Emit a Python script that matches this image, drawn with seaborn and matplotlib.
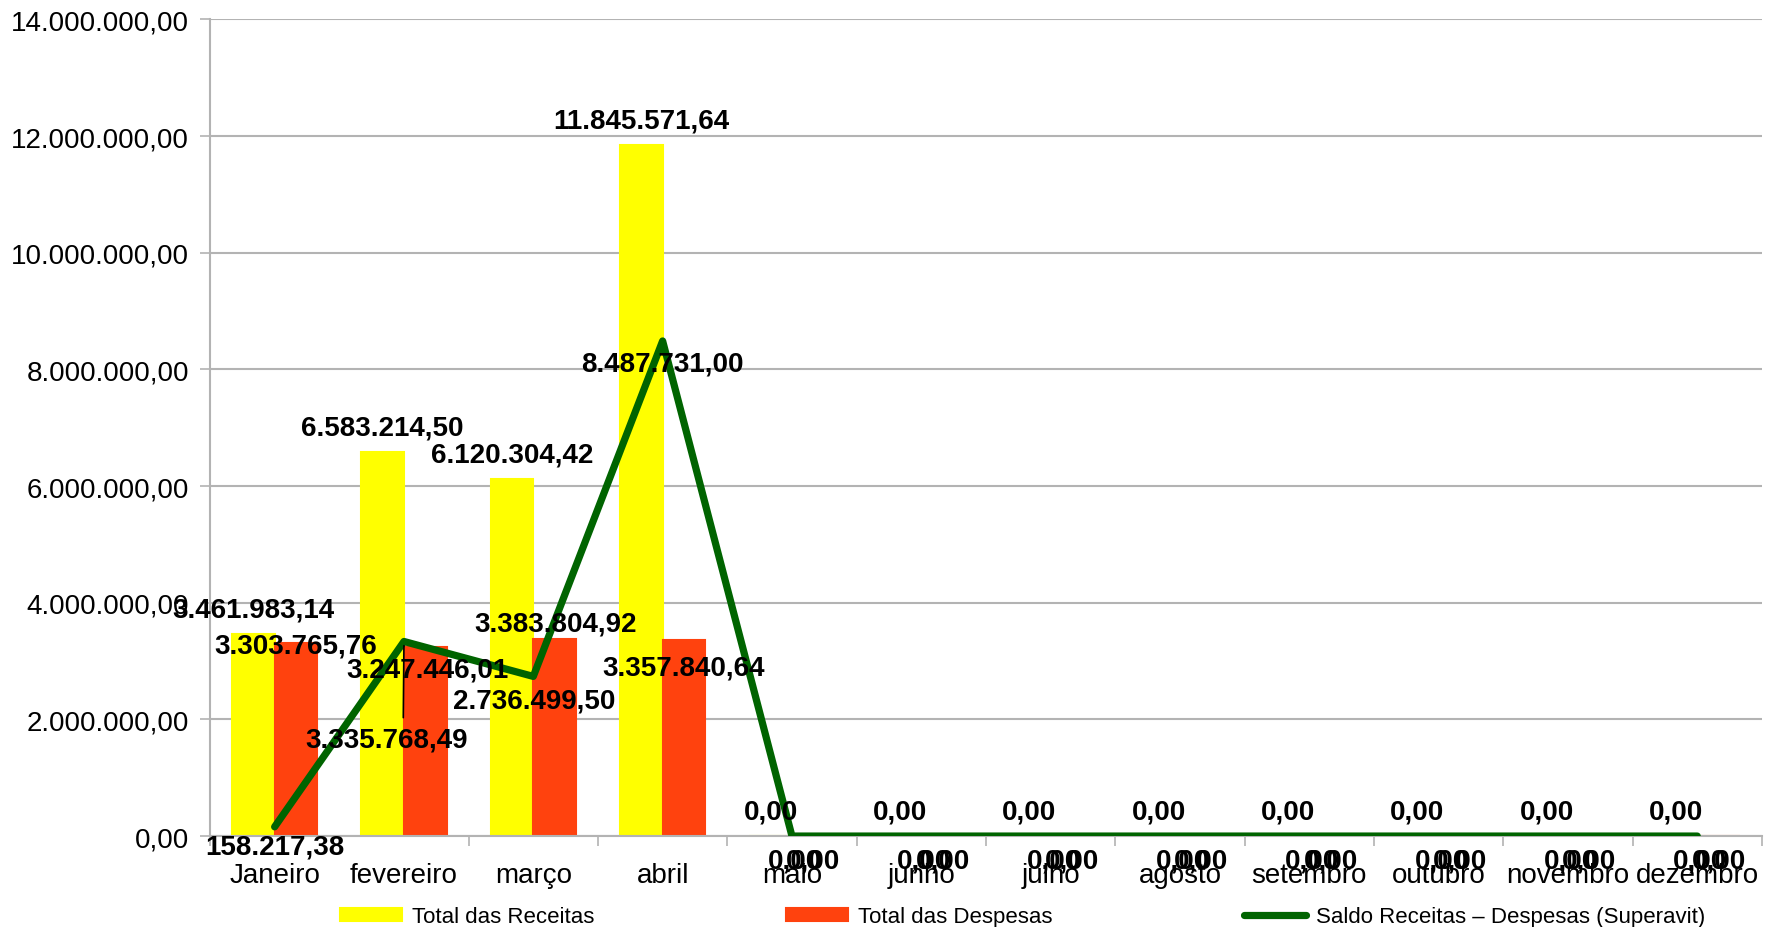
import numpy as np
import pandas as pd
import matplotlib
matplotlib.use("Agg")
import matplotlib.pyplot as plt
import seaborn as sns
from matplotlib.ticker import FuncFormatter, FixedLocator

meses = ["Janeiro", "fevereiro", "março", "abril", "maio", "junho",
         "julho", "agosto", "setembro", "outubro", "novembro", "dezembro"]
receitas = [3461983.14, 6583214.50, 6120304.42, 11845571.64, 0, 0, 0, 0, 0, 0, 0, 0]
despesas = [3303765.76, 3247446.01, 3383804.92, 3357840.64, 0, 0, 0, 0, 0, 0, 0, 0]
saldo = [158217.38, 3335768.49, 2736499.50, 8487731.00, 0, 0, 0, 0, 0, 0, 0, 0]

# label offsets in pixels (dx, dy)
off_desp = [(0, -2), (2, -23), (1, 15), (0, -27)] + [(0, -24)] * 8
off_saldo = [(0, -20), (-17, -98), (1, -24), (0, -23)] + [(3, -24)] * 8

COR_REC = "#ffff00"
COR_DESP = "#ff420e"
COR_SALDO = "#006400"
GRID = "#b3b3b3"


def br(v):
    s = f"{v:,.2f}"
    return s.replace(",", "X").replace(".", ",").replace("X", ".")


def plot_chart():
    sns.set_theme(style="white")
    plt.rcParams["font.family"] = ["Liberation Sans", "DejaVu Sans"]
    plt.rcParams["text.color"] = "black"
    plt.rcParams["xtick.labelcolor"] = "black"
    plt.rcParams["ytick.labelcolor"] = "black"

    df = pd.DataFrame({
        "mes": meses * 2,
        "valor": receitas + despesas,
        "serie": ["Total das Receitas"] * 12 + ["Total das Despesas"] * 12,
    })

    fig = plt.figure(figsize=(17.69, 9.28), dpi=100)
    ax = fig.add_axes([0.1187, 0.098, 0.8773, 0.880])

    sns.barplot(data=df, x="mes", y="valor", hue="serie", order=meses,
                palette={"Total das Receitas": COR_REC, "Total das Despesas": COR_DESP},
                width=0.66, ax=ax, saturation=1, errorbar=None)
    for p in ax.patches:
        p.set_edgecolor(p.get_facecolor())
        p.set_linewidth(1.5)

    x = np.arange(len(meses))
    sns.lineplot(x=x, y=saldo, color=COR_SALDO, linewidth=5.2, ax=ax,
                 label="Saldo Receitas – Despesas (Superavit)", zorder=5)

    bw = 0.33
    lbl = dict(ha="center", va="center", fontsize=20, fontweight="bold",
               color="black", textcoords="offset pixels", zorder=10)
    for i in range(len(meses)):
        ax.annotate(br(receitas[i]), (x[i] - bw / 2, receitas[i]), xytext=(0, 25), **lbl)
        dx, dy = off_desp[i]
        ax.annotate(br(despesas[i]), (x[i] + bw / 2, despesas[i]), xytext=(dx, dy), **lbl)
        dx, dy = off_saldo[i]
        if i == 1:
            ax.annotate(br(saldo[i]), (x[i], saldo[i]), xytext=(dx, dy),
                        arrowprops=dict(arrowstyle="-", color="black", lw=1.2,
                                        relpos=(0.6, 1.0), shrinkA=4, shrinkB=3),
                        **lbl)
        else:
            ax.annotate(br(saldo[i]), (x[i], saldo[i]), xytext=(dx, dy), **lbl)

    ax.set_xlim(-0.5, 11.5)
    ax.set_ylim(0, 14000000)
    ax.yaxis.set_major_locator(FixedLocator(np.arange(0, 14000001, 2000000)))
    ax.yaxis.set_major_formatter(FuncFormatter(lambda v, _: br(v)))
    ax.grid(axis="y", color=GRID, linewidth=1.5)
    ax.set_axisbelow(True)

    ax.set_xticks(np.arange(-0.5, 12, 1))
    ax.set_xticklabels([])
    ax.set_xticks(x, minor=True)
    ax.set_xticklabels(meses, minor=True, fontsize=20)
    ax.tick_params(axis="x", which="major", length=7, width=1.2, color=GRID, direction="out", bottom=True)
    ax.tick_params(axis="x", which="minor", length=0, pad=19)
    ax.tick_params(axis="y", length=7, width=1.2, color=GRID, left=True, labelsize=20, pad=8)
    ax.set_xlabel("")
    ax.set_ylabel("")

    for s in ["top", "right"]:
        ax.spines[s].set_visible(False)
    for s in ["left", "bottom"]:
        ax.spines[s].set_color(GRID)
        ax.spines[s].set_linewidth(1.5)

    handles, labels = ax.get_legend_handles_labels()
    ax.get_legend().remove()
    order = [labels.index("Total das Receitas"), labels.index("Total das Despesas"),
             labels.index("Saldo Receitas – Despesas (Superavit)")]
    fig.legend([handles[k] for k in order], [labels[k] for k in order],
               loc="center", bbox_to_anchor=(0.578, 0.011), ncol=3, frameon=False,
               fontsize=16, handlelength=2.8, handleheight=0.55, handletextpad=0.45,
               columnspacing=8.6, borderpad=0)

    fig.savefig("out.png", dpi=100)


if __name__ == "__main__":
    plot_chart()
